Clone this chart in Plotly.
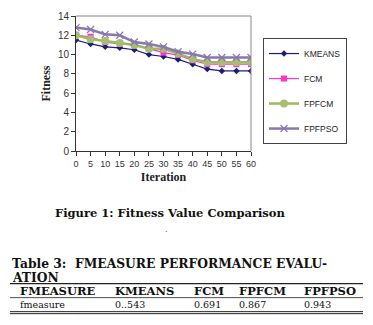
import plotly.graph_objects as go

iterations = [0, 5, 10, 15, 20, 25, 30, 35, 40, 45, 50, 55, 60]
kmeans = [11.5, 11.1, 10.8, 10.7, 10.5, 10.0, 9.8, 9.5, 9.0, 8.5, 8.3, 8.3, 8.3]
fcm = [12.0, 11.85, 11.3, 11.1, 11.0, 10.6, 10.2, 9.95, 9.4, 9.0, 9.0, 9.0, 9.0]
fpfcm = [12.0, 11.6, 11.4, 11.2, 11.0, 10.6, 10.6, 10.1, 9.55, 9.2, 9.2, 9.2, 9.2]
fpfpso = [12.8, 12.6, 12.1, 12.0, 11.3, 11.1, 10.8, 10.3, 10.05, 9.7, 9.7, 9.7, 9.7]

table_headers = ["FMEASURE", "KMEANS", "FCM", "FPFCM", "FPFPSO"]
table_values = ["fmeasure", "0..543", "0.691", "0.867", "0.943"]

W, H = 373, 325
L, R, T, B = 76, 251, 16, 150.7


def px(x):
    return (x - L) / (R - L)


def py(y):
    return (B - y) / (B - T)


fig = go.Figure()
series = [
    ("KMEANS", kmeans, "#1c1c7a", 1.2, dict(symbol="diamond", size=5, color="#1c1c7a")),
    ("FCM", fcm, "#ff33cc", 1.2, dict(symbol="square", size=6, color="#ff33cc")),
    ("FPFCM", fpfcm, "#9bbb59", 2.5, dict(symbol="circle", size=8, color="#a7be72")),
    ("FPFPSO", fpfpso, "#8a76b2", 2.5, dict(symbol="x-thin", size=7, color="#8a76b2",
                                              line=dict(width=1.2, color="#8a76b2"))),
]
for i, (name, vals, col, lw, mk) in enumerate(series):
    fig.add_trace(go.Scatter(
        x=iterations, y=vals, name=name, mode="lines+markers",
        line=dict(color=col, width=lw), marker=mk, legendgroup=f"g{i}",
    ))

fig.update_layout(
    width=W, height=H,
    margin=dict(l=L, r=W - R, t=T, b=H - B, autoexpand=False),
    paper_bgcolor="white", plot_bgcolor="white",
    showlegend=True,
    legend=dict(
        x=px(263), y=py(38), xanchor="left", yanchor="top",
        bordercolor="#444", borderwidth=1, bgcolor="white",
        font=dict(family="Liberation Sans, Arial", size=8.5, color="#222"),
        tracegroupgap=6, itemwidth=30,
    ),
    xaxis=dict(
        range=[0, 60], tickvals=iterations, showgrid=False, zeroline=False,
        showline=True, linecolor="#333", linewidth=1,
        ticks="outside", ticklen=4, tickcolor="#333",
        tickfont=dict(family="Liberation Sans, Arial", size=9, color="#333"),
        title=dict(text="<b>Iteration</b>", standoff=4,
                   font=dict(family="Liberation Serif, Times New Roman", size=12, color="#222")),
    ),
    yaxis=dict(
        range=[0, 14], dtick=2, showgrid=False, zeroline=False,
        showline=True, linecolor="#333", linewidth=1,
        ticks="outside", ticklen=4, tickcolor="#333",
        tickfont=dict(family="Liberation Sans, Arial", size=10, color="#333"),
        title=dict(text="<b>Fitness</b>", standoff=4,
                   font=dict(family="Liberation Serif, Times New Roman", size=12, color="#222")),
    ),
)

# top/right frame
fig.add_shape(type="line", xref="paper", yref="paper", x0=0, x1=1, y0=1, y1=1,
              line=dict(color="#888", width=1))
fig.add_shape(type="line", xref="paper", yref="paper", x0=1, x1=1, y0=0, y1=1,
              line=dict(color="#888", width=1))

serif = "DejaVu Serif"


def text(x, y, s, size, bold=False, anchor="left"):
    fig.add_annotation(
        x=px(x), y=py(y), xref="paper", yref="paper", text=f"<b>{s}</b>" if bold else s,
        showarrow=False, xanchor=anchor, yanchor="middle",
        font=dict(family=serif, size=size, color="#111"),
    )


text(170, 213, "Figure 1: Fitness Value Comparison", 11.5, True, "center")
text(166, 229, ".", 8, False, "center")
text(10, 263, "Table 3:  FMEASURE PERFORMANCE EVALU-", 12.3, True)
text(10, 276.5, "ATION", 12.3, True)

col_x = [18, 113, 192, 237, 302]
for cx, h in zip(col_x, table_headers):
    text(cx, 290, h, 11.5, True)
for cx, v in zip(col_x, table_values):
    text(cx, 304, v, 9.5, False)

for yy, w in [(283, 1.2), (297, 0.8), (311, 1), (313, 1)]:
    fig.add_shape(type="line", xref="paper", yref="paper",
                  x0=px(10), x1=px(363), y0=py(yy), y1=py(yy),
                  line=dict(color="#222", width=w))

fig.write_html("out.html")
